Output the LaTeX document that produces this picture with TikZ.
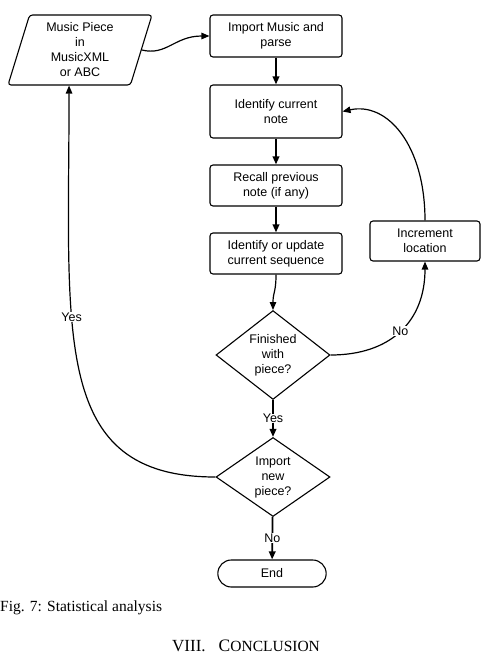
\documentclass[tikz,border=0pt]{standalone}
\usepackage{fontspec}
\setmainfont{Liberation Serif}
\newfontfamily\flowfont{Liberation Sans}
\usetikzlibrary{arrows.meta, shapes.geometric, shapes.misc}

\begin{document}
\begin{tikzpicture}[x=1pt, y=-1pt,
    boxfont/.style={font=\flowfont\fontsize{12.5}{15}\selectfont},
    stepbox/.style={boxfont, draw, rounded corners=3pt, line width=1.1pt,
                 minimum width=132pt, align=center, inner sep=2pt},
    decision/.style={boxfont, draw, diamond, minimum width=114pt, minimum height=79pt,
                 inner sep=0pt, line width=1.1pt, align=center},
    datain/.style={boxfont, draw, trapezium, trapezium left angle=69, trapezium right angle=111,
                 trapezium stretches body, minimum width=144pt, minimum height=70pt,
                 rounded corners=3pt, line width=1.1pt, align=center, inner sep=1pt},
    terminal/.style={boxfont, draw, rounded rectangle, minimum width=115pt,
                 minimum height=27pt, line width=1.1pt},
    arr/.style={-{Triangle[length=8pt, width=6.5pt]}, line width=1.2pt},
    flow/.style={arr, line width=1.8pt},
    lbl/.style={boxfont, fill=white, inner sep=0.5pt},
]
    \useasboundingbox (0,0) rectangle (482,656);

    \node[datain] (src) at (80, 50) {Music Piece\\in\\MusicXML\\or ABC};
    \node[stepbox, minimum height=42pt] (imp) at (276, 36) {Import Music and\\parse};
    \node[stepbox, minimum height=53pt] (cur) at (276, 111.5) {Identify current\\note};
    \node[stepbox, minimum height=41pt] (rec) at (276, 185.5) {Recall previous\\note (if any)};
    \node[stepbox, minimum height=41pt] (upd) at (276, 253.5) {Identify or update\\current sequence};
    \node[stepbox, minimum height=40pt, minimum width=110pt] (inc) at (425, 241) {Increment\\location};
    \node[decision] (fin) at (273, 355) {Finished\\with\\piece?};
    \node[decision] (new) at (273, 477) {Import\\new\\piece?};
    \node[terminal] (end) at (272, 573.5) {End};

    \draw[arr] (src.east) .. controls +(25,6) and +(-35,0) .. (imp.west);
    \draw[flow] (imp) -- (cur);
    \draw[flow] (cur) -- (rec);
    \draw[flow] (rec) -- (upd);
    \draw[arr] (upd.south) .. controls +(0,18) and +(0,-18) .. (fin.north);

    % loop back
    \draw[arr] (fin.east) .. controls +(60,0) and +(0,60) .. (inc.south)
        node[lbl, pos=0.5] {No};
    \draw[arr] (inc.north) .. controls +(0,-75) and +(45,-10) .. (cur.east);

    \draw[flow] (fin) -- node[lbl] {Yes} (new);
    \draw[arr] (new.west) .. controls +(-165,0) and +(0,250) .. (src.bottom side)
        node[lbl, pos=0.63] {Yes};
    \draw[flow] (new) -- node[lbl] {No} (end);

    % Caption
    \node[anchor=base west, inner sep=0pt, font=\fontsize{15.5}{18}\selectfont] (cap) at (0, 611)
        {Fig. 7: Statistical analysis};
    \node[anchor=base west, inner sep=0pt, font=\fontsize{17}{17}\selectfont] (sec) at (172, 651)
        {VIII.\hspace{13pt}{\fontsize{17.5}{17}\selectfont C}{\fontsize{15.5}{17}\selectfont ONCLUSION}};
\end{tikzpicture}
\end{document}
